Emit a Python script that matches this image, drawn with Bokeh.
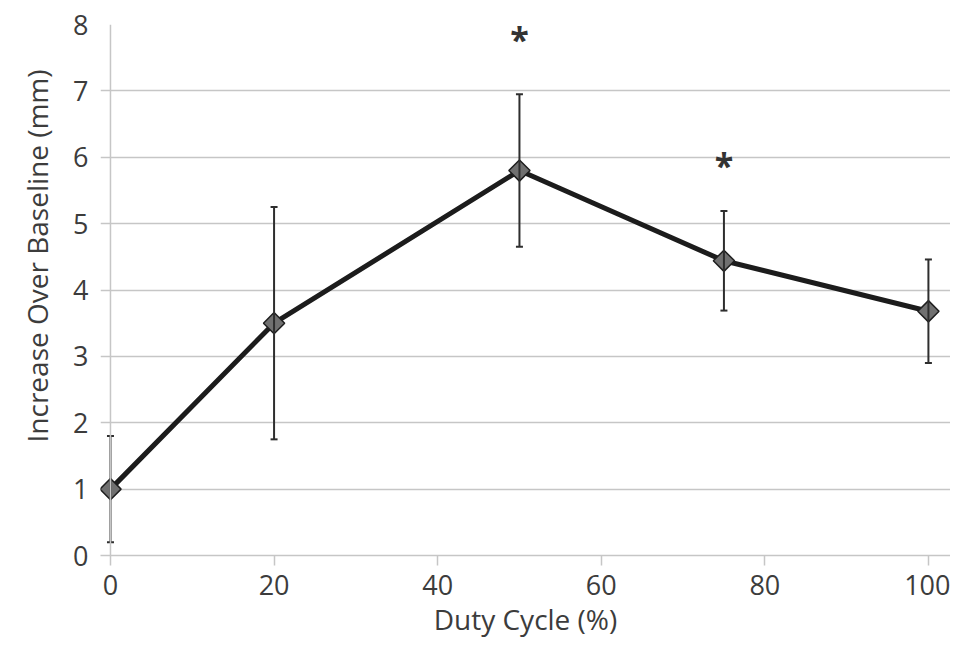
import math
from bokeh.plotting import figure
from bokeh.models import (ColumnDataSource, Range1d, Span, Whisker, TeeHead,
                          Title, FixedTicker)
from bokeh.core.properties import value
from bokeh.embed import file_html
from bokeh.resources import INLINE

# ---- data ----
duty_cycle = [0, 20, 50, 75, 100]
increase_mm = [1.0, 3.5, 5.8, 4.44, 3.68]
error_mm = [0.8, 1.75, 1.15, 0.75, 0.78]
sig_x = [50, 75]
sig_y = [7.775, 5.88]
sig_text = ["*", "*"]
x_ticks = [0, 20, 40, 60, 80, 100]
y_ticks = [0, 1, 2, 3, 4, 5, 6, 7, 8]

FONT = "Open Sans"
TXT = "#3c3c3c"
GRID = "#c6c6c6"

src = ColumnDataSource(dict(
    x=duty_cycle,
    y=increase_mm,
    upper=[m + e for m, e in zip(increase_mm, error_mm)],
    lower=[m - e for m, e in zip(increase_mm, error_mm)],
))

p = figure(width=950, height=640, output_backend="svg", toolbar_location=None,
           x_range=Range1d(-1.22, 102.7), y_range=Range1d(0, 8),
           min_border_left=100, min_border_right=0, min_border_top=24,
           min_border_bottom=83)
p.outline_line_color = None
p.background_fill_color = "white"
p.border_fill_color = "white"

# grid
p.xgrid.visible = False
p.ygrid.ticker = FixedTicker(ticks=y_ticks)
p.ygrid.grid_line_color = GRID
p.ygrid.grid_line_width = 1.5

# x axis
p.xaxis.ticker = FixedTicker(ticks=x_ticks)
p.xaxis.axis_line_color = GRID
p.xaxis.axis_line_width = 1.5
p.xaxis.major_tick_line_color = GRID
p.xaxis.major_tick_line_width = 1.5
p.xaxis.major_tick_out = 10
p.xaxis.major_tick_in = 0
p.xaxis.minor_tick_line_color = None
p.xaxis.major_label_text_font = FONT
p.xaxis.major_label_text_font_size = "27px"
p.xaxis.major_label_text_color = TXT
p.xaxis.major_label_standoff = 9
p.xaxis.axis_label = "Duty Cycle (%)"
p.xaxis.axis_label_text_font = FONT
p.xaxis.axis_label_text_font_size = "28px"
p.xaxis.axis_label_text_font_style = "normal"
p.xaxis.axis_label_text_color = TXT
p.xaxis.axis_label_standoff = 2

# y axis
p.yaxis.ticker = FixedTicker(ticks=y_ticks)
p.yaxis.axis_line_color = None
p.yaxis.major_tick_line_color = None
p.yaxis.minor_tick_line_color = None
p.yaxis.major_tick_out = 0
p.yaxis.major_tick_in = 0
p.yaxis.major_label_text_font = FONT
p.yaxis.major_label_text_font_size = "27px"
p.yaxis.major_label_text_color = TXT
p.yaxis.major_label_standoff = 12

# y-axis title (as a left-side title so it can sit above the frame centre)
p.add_layout(Title(text="Increase Over Baseline (mm)", align="left", offset=113,
                   text_font=FONT, text_font_size="28px",
                   text_font_style="normal", text_color=TXT, standoff=29),
             "left")

# vertical axis line at x = 0
p.add_layout(Span(location=0, dimension="height", line_color=GRID, line_width=1.5))

# error bars
w = Whisker(base="x", upper="upper", lower="lower", source=src,
            line_color="#2e2e2e", line_width=2,
            upper_head=TeeHead(size=7, line_color="#2e2e2e", line_width=2),
            lower_head=TeeHead(size=7, line_color="#2e2e2e", line_width=2))
w.level = "glyph"
p.add_layout(w)

# line and markers
p.line("x", "y", source=src, line_width=5, line_color="#1c1c1c")
p.scatter("x", "y", source=src, marker="square", angle=math.pi / 4, size=15,
          fill_color="#707070", line_color="#1e1e1e", line_width=1.5)

# significance marks
p.text(x=sig_x, y=sig_y, text=sig_text, text_font=value(FONT),
       text_font_size="34px", text_font_style="bold", text_align="center",
       text_baseline="middle", text_color="#333333")

open("out.html", "w").write(file_html(p, INLINE))
